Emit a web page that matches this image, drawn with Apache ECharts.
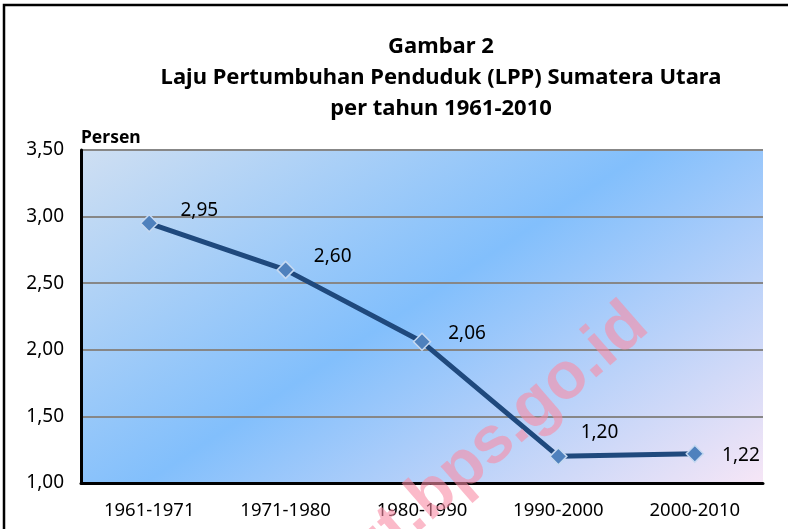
<!DOCTYPE html>
<html>
<head>
<meta charset="utf-8">
<script src="https://cdn.jsdelivr.net/npm/echarts@6/dist/echarts.min.js"></script>
<style>
  html, body { margin: 0; padding: 0; background: #fff; }
  #chart { width: 788px; height: 529px; }
</style>
</head>
<body>
<div id="chart"></div>
<script>
// data
const periods = ['1961-1971', '1971-1980', '1980-1990', '1990-2000', '2000-2010']
const lppValues = [2.95, 2.60, 2.06, 1.20, 1.22]
const yTicks = [1.0, 1.5, 2.0, 2.5, 3.0, 3.5]

// label offsets per point (like in the original picture)
const labelOffsets = [[14, -13], [11, -13], [9, -8], [5, -24], [10, 2]]

const fontFamily = '"Noto Sans", sans-serif'
const fmt = v => v.toFixed(2).replace('.', ',')

const chart = echarts.init(document.getElementById('chart'))

const option = {
  animation: false,
  title: {
    text: 'Gambar 2\nLaju Pertumbuhan Penduduk (LPP) Sumatera Utara\nper tahun 1961-2010',
    left: 436,
    top: 26,
    textAlign: 'center',
    textStyle: {
      fontFamily: fontFamily,
      fontWeight: 'bold',
      fontSize: 22,
      lineHeight: 31,
      color: '#000'
    }
  },
  grid: {
    left: 81,
    right: 25,
    top: 150,
    bottom: 46,
    show: true,
    borderWidth: 0,
    // diagonal fill: light top-left, blue band, pinkish bottom-right
    backgroundColor: new echarts.graphic.LinearGradient(0.21, -0.29, 0.74, 1.35, [
      { offset: 0, color: '#cfdff2' },
      { offset: 0.48, color: '#82bffc' },
      { offset: 1, color: '#f6e6f6' }
    ])
  },
  xAxis: {
    type: 'category',
    data: periods,
    boundaryGap: true,
    axisLine: { lineStyle: { color: '#000', width: 3 } },
    axisTick: { show: false },
    axisLabel: {
      margin: 18,
      fontFamily: fontFamily,
      fontSize: 18.5,
      color: '#000'
    }
  },
  yAxis: {
    type: 'value',
    min: yTicks[0],
    max: yTicks[yTicks.length - 1],
    interval: 0.5,
    name: 'Persen',
    nameLocation: 'end',
    nameGap: 3,
    nameTextStyle: {
      fontFamily: fontFamily,
      fontWeight: 'bold',
      fontSize: 17.5,
      color: '#000',
      align: 'left',
      padding: [0, 0, 0, 0]
    },
    axisLine: { show: true, lineStyle: { color: '#000', width: 3 } },
    axisTick: { show: false },
    axisLabel: {
      margin: 17,
      fontFamily: fontFamily,
      fontSize: 19,
      color: '#000',
      formatter: fmt
    },
    splitLine: { show: true, lineStyle: { color: '#878787', width: 2 } }
  },
  series: [
    {
      type: 'line',
      data: lppValues.map((v, i) => ({
        value: v,
        label: { offset: labelOffsets[i] }
      })),
      symbol: 'diamond',
      symbolSize: 17,
      lineStyle: { color: '#1f497d', width: 5 },
      itemStyle: { color: '#4f81bd', borderColor: '#c6d9f1', borderWidth: 1.5 },
      label: {
        show: true,
        position: 'right',
        distance: 8,
        fontFamily: fontFamily,
        fontSize: 19,
        color: '#000',
        formatter: p => fmt(p.value)
      },
      z: 3
    }
  ],
  graphic: [
    {
      // outer frame
      type: 'rect',
      shape: { x: 4, y: 5, width: 800, height: 560 },
      style: { fill: 'none', stroke: '#000', lineWidth: 2.5 },
      silent: true,
      z: 10
    },
    {
      // watermark
      type: 'text',
      x: 639,
      y: 316,
      rotation: 41 * Math.PI / 180,
      style: {
        text: 'sumut.bps.go.id',
        fontFamily: '"Liberation Sans", Arial, sans-serif',
        fontWeight: 'bold',
        fontSize: 66,
        fill: 'rgba(248, 140, 165, 0.6)',
        align: 'right',
        verticalAlign: 'middle'
      },
      silent: true,
      z: 20
    }
  ]
}

chart.setOption(option)
</script>
</body>
</html>
